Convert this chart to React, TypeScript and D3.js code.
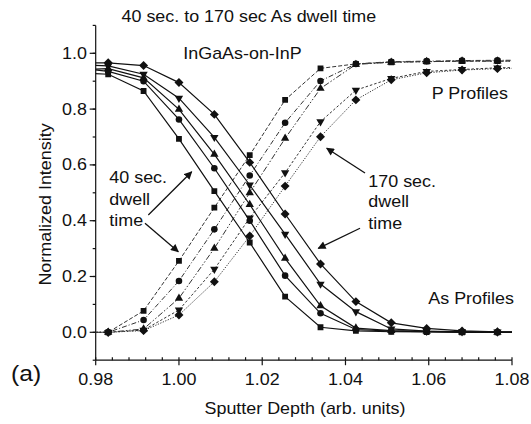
import React from 'react';
import * as d3 from 'd3';

const W = 531;
const H = 424;

// Sputter depth of each sample (arb. units); outer entries continue past the axis range
const depth = [0.9745, 0.983, 0.9915, 1.0, 1.0085, 1.017, 1.0255, 1.034, 1.0425, 1.051, 1.0595, 1.068, 1.0765, 1.085];

// As profiles (normalized intensity), 40 sec -> 170 sec dwell time
const asSquare = [0.93, 0.925, 0.865, 0.693, 0.506, 0.322, 0.128, 0.018, 0.005, 0.002, 0.001, 0.0, 0.0, 0.0];
const asCircle = [0.95, 0.935, 0.9, 0.763, 0.588, 0.4, 0.203, 0.068, 0.01, 0.004, 0.002, 0.001, 0.0, 0.0];
const asUp = [0.94, 0.945, 0.912, 0.799, 0.638, 0.458, 0.265, 0.095, 0.015, 0.006, 0.003, 0.001, 0.0, 0.0];
const asDown = [0.96, 0.955, 0.925, 0.839, 0.699, 0.528, 0.352, 0.173, 0.074, 0.012, 0.004, 0.002, 0.001, 0.0];
const asDiamond = [0.965, 0.966, 0.956, 0.895, 0.781, 0.609, 0.424, 0.245, 0.11, 0.034, 0.014, 0.005, 0.002, 0.0];

// P profiles (normalized intensity), 40 sec -> 170 sec dwell time
const pSquare = [0, 0, 0.077, 0.256, 0.447, 0.635, 0.833, 0.946, 0.962, 0.968, 0.97, 0.972, 0.972, 0.972];
const pCircle = [0, 0, 0.044, 0.184, 0.369, 0.562, 0.751, 0.901, 0.962, 0.97, 0.972, 0.974, 0.975, 0.975];
const pUp = [0, 0, 0.012, 0.122, 0.301, 0.5, 0.695, 0.874, 0.96, 0.968, 0.97, 0.972, 0.972, 0.972];
const pDown = [0, 0, 0.008, 0.08, 0.226, 0.41, 0.572, 0.755, 0.868, 0.91, 0.935, 0.942, 0.948, 0.95];
const pDiamond = [0, 0, 0.006, 0.062, 0.181, 0.345, 0.524, 0.701, 0.833, 0.905, 0.93, 0.94, 0.945, 0.947];

const xMajor = [0.98, 1.0, 1.02, 1.04, 1.06, 1.08];
const yMajor = [0.0, 0.2, 0.4, 0.6, 0.8, 1.0];

const FONT = "'Liberation Sans', Arial, Helvetica, sans-serif";

const x = d3.scaleLinear().domain([0.98, 1.08]).range([95.7, 512]);
const y = d3.scaleLinear().domain([-0.1, 1.1]).range([360.2, 25.4]);

type Shape = 'square' | 'circle' | 'up' | 'down' | 'diamond';

const symbolPath = (shape: Shape): string => {
  if (shape === 'square') return d3.symbol(d3.symbolSquare, 34)() as string;
  if (shape === 'diamond') return d3.symbol(d3.symbolSquare, 40)() as string;
  if (shape === 'circle') return d3.symbol(d3.symbolCircle, 34)() as string;
  return d3.symbol(d3.symbolTriangle, 30)() as string;
};
const symbolRotate = (shape: Shape) => (shape === 'diamond' ? 45 : shape === 'down' ? 180 : 0);

const asSeries: { shape: Shape; values: number[] }[] = [
  { shape: 'square', values: asSquare },
  { shape: 'circle', values: asCircle },
  { shape: 'up', values: asUp },
  { shape: 'down', values: asDown },
  { shape: 'diamond', values: asDiamond },
];

const pSeries: { shape: Shape; values: number[]; dash: string }[] = [
  { shape: 'square', values: pSquare, dash: '4,2' },
  { shape: 'circle', values: pCircle, dash: '5,2,1,2' },
  { shape: 'up', values: pUp, dash: '6,2,1.5,2,1.5,2' },
  { shape: 'down', values: pDown, dash: '2.5,2' },
  { shape: 'diamond', values: pDiamond, dash: '1.2,1.5' },
];

const line = d3
  .line<number>()
  .x((_, i) => x(depth[i]))
  .y((v) => y(v));

// Wide sans text: glyphs stretched slightly along the reading direction
function Label(props: {
  x: number;
  y: number;
  size?: number;
  anchor?: 'start' | 'middle' | 'end';
  rotate?: number;
  children: React.ReactNode;
}) {
  const { size = 16, anchor = 'start', rotate = 0 } = props;
  const t = `translate(${props.x},${props.y})${rotate ? ` rotate(${rotate})` : ''} scale(1.12,1)`;
  return (
    <text transform={t} fontSize={size} textAnchor={anchor} fontFamily={FONT} fill="#111">
      {props.children}
    </text>
  );
}

function Markers({ shape, values }: { shape: Shape; values: number[] }) {
  const d = symbolPath(shape);
  const r = symbolRotate(shape);
  return (
    <g>
      {values.map((v, i) => (
        <path
          key={i}
          d={d}
          fill="#111"
          transform={`translate(${x(depth[i])},${y(v)}) rotate(${r})`}
        />
      ))}
    </g>
  );
}

// Annotation arrows, given in data coordinates: [fromX, fromY, tipX, tipY]
const arrows = [
  [0.99264, 0.4204, 1.00306, 0.5756],
  [0.99184, 0.3907, 0.99984, 0.2889],
  [1.04469, 0.571, 1.03549, 0.6595],
  [1.04349, 0.3728, 1.03347, 0.301],
];

export default function App() {
  const [x0, x1] = x.range();
  const [yb, yt] = y.range();
  const xMinor = d3.range(0, 26).map((i) => 0.98 + i * 0.004);
  const yMinor = d3.range(0, 13).map((i) => -0.1 + i * 0.1);
  const fmtX = d3.format('.2f');
  const fmtY = d3.format('.1f');

  return (
    <svg
      width={W}
      height={H}
      viewBox={`0 0 ${W} ${H}`}
      style={{ position: 'absolute', left: 0, top: 0, background: '#fff' }}
    >
      <defs>
        <clipPath id="plot-area">
          <rect x={x0} y={yt} width={x1 - x0} height={yb - yt} />
        </clipPath>
        <marker
          id="arrow-head"
          viewBox="0 0 10 10"
          refX="9"
          refY="5"
          markerWidth="9"
          markerHeight="8"
          markerUnits="userSpaceOnUse"
          orient="auto"
        >
          <path d="M0,0 L10,5 L0,10 Z" fill="#111" />
        </marker>
      </defs>
      <rect width={W} height={H} fill="#fff" />

      {/* axes */}
      <g stroke="#111" strokeWidth={1.2} fill="none">
        <line x1={x0} x2={x1} y1={yb} y2={yb} />
        <line x1={x0} x2={x0} y1={yb} y2={yt} />
        {xMinor.map((t, i) => (
          <line key={'xm' + i} x1={x(t)} x2={x(t)} y1={yb} y2={yb - 3} />
        ))}
        {xMajor.map((t) => (
          <line key={'xM' + t} x1={x(t)} x2={x(t)} y1={yb} y2={yb + 5} />
        ))}
        {yMinor.map((t, i) => (
          <line key={'ym' + i} x1={x0} x2={x0 - 3} y1={y(t)} y2={y(t)} />
        ))}
        {yMajor.map((t) => (
          <line key={'yM' + t} x1={x0} x2={x0 - 6} y1={y(t)} y2={y(t)} />
        ))}
      </g>
      {xMajor.map((t) => (
        <Label key={'xl' + t} x={x(t)} y={384.5} anchor="middle">
          {fmtX(t)}
        </Label>
      ))}
      {yMajor.map((t) => (
        <Label key={'yl' + t} x={87} y={y(t) + 5.5} anchor="end">
          {fmtY(t)}
        </Label>
      ))}

      {/* profiles */}
      <g clipPath="url(#plot-area)">
        {pSeries.map((s) => (
          <path
            key={'pl' + s.shape}
            d={line(s.values) as string}
            fill="none"
            stroke="#333"
            strokeWidth={1}
            strokeDasharray={s.dash}
          />
        ))}
        {asSeries.map((s) => (
          <path
            key={'al' + s.shape}
            d={line(s.values) as string}
            fill="none"
            stroke="#111"
            strokeWidth={1.2}
          />
        ))}
        {pSeries.map((s) => (
          <Markers key={'pm' + s.shape} shape={s.shape} values={s.values} />
        ))}
        {asSeries.map((s) => (
          <Markers key={'am' + s.shape} shape={s.shape} values={s.values} />
        ))}
      </g>

      {/* annotations */}
      {arrows.map((a, i) => (
        <line
          key={'ar' + i}
          x1={x(a[0])}
          y1={y(a[1])}
          x2={x(a[2])}
          y2={y(a[3])}
          stroke="#111"
          strokeWidth={1.3}
          markerEnd="url(#arrow-head)"
        />
      ))}

      <Label x={121.5} y={21.5}>40 sec. to 170 sec As dwell time</Label>
      <Label x={183.3} y={59.3}>InGaAs-on-InP</Label>
      <Label x={431.7} y={99}>P Profiles</Label>
      <Label x={428.3} y={304}>As Profiles</Label>
      <Label x={109.3} y={183.3}>40 sec.</Label>
      <Label x={109.3} y={205}>dwell</Label>
      <Label x={109.3} y={225.5}>time</Label>
      <Label x={368.3} y={186.7}>170 sec.</Label>
      <Label x={368.3} y={207}>dwell</Label>
      <Label x={368.3} y={229}>time</Label>

      <Label x={305} y={414} anchor="middle">Sputter Depth (arb. units)</Label>
      <Label x={51} y={204.5} anchor="middle" rotate={-90}>Normalized Intensity</Label>
      <Label x={11} y={381} size={22}>(a)</Label>
    </svg>
  );
}
